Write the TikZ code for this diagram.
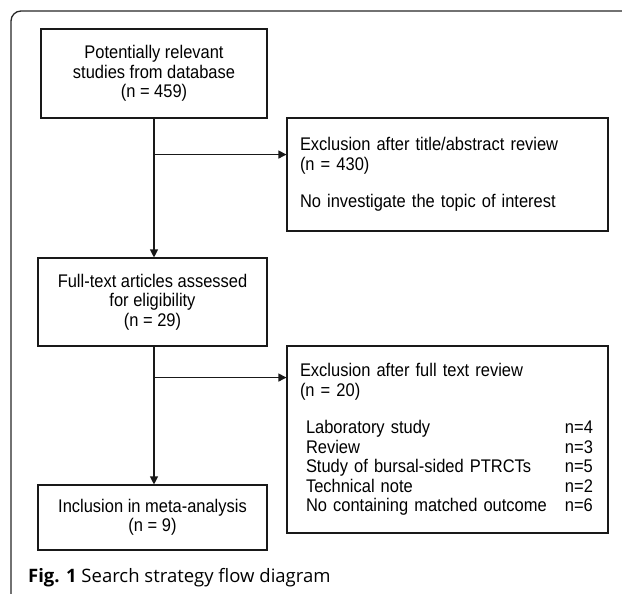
\documentclass[tikz,border=0pt]{standalone}
\usepackage{fontspec}
\setmainfont{Liberation Sans}[FakeStretch=0.9]
\newfontfamily\capfont{Open Sans}
\usepackage{tikz}
\usetikzlibrary{arrows.meta}
\tikzstyle{box} = [draw=black!90, line width=1.1pt, inner sep=0pt, font=\fontsize{18.3}{19.5}\selectfont]
\tikzstyle{arrow} = [line width=1.1pt, draw=black!90, -{Triangle[length=8pt, width=8pt]}]
\tikzstyle{frame} = [line width=1.3pt, draw=black!85, rounded corners=10pt]

\begin{document}
\begin{tikzpicture}[x=1pt, y=-1pt]
        \useasboundingbox (0,0) rectangle (622,594);
        \draw [frame] (622,11) -- (11,11) -- (11,594);

        \node (found) [box, minimum width=226pt, minimum height=89pt, align=center] at (154,73.5) {Potentially relevant\\studies from database\\(n = 459)};
        \node (excl_title) [box, minimum width=321pt, minimum height=113pt, text width=295pt, align=left] at (447.5,174.5) {Exclusion after title/abstract review\\(n = 430)\\[18pt]No investigate the topic of interest};
        \node (checked) [box, minimum width=229pt, minimum height=88pt, align=center] at (152.5,302) {Full-text articles assessed\\for eligibility\\(n = 29)};
        \node (excl_full) [box, minimum width=321pt, minimum height=187pt, text width=295pt, align=left] at (447.5,439.5) {Exclusion after full text review\\(n = 20)\\[18pt]
            \hspace*{6pt}\makebox[259pt][l]{Laboratory study}n=4\\
            \hspace*{6pt}\makebox[259pt][l]{Review}n=3\\
            \hspace*{6pt}\makebox[259pt][l]{Study of bursal-sided PTRCTs}n=5\\
            \hspace*{6pt}\makebox[259pt][l]{Technical note}n=2\\
            \hspace*{6pt}\makebox[259pt][l]{No containing matched outcome}n=6};
        \node (included) [box, minimum width=229pt, minimum height=65pt, align=center] at (152.5,517.5) {Inclusion in meta-analysis\\(n = 9)};
        \node (caption) [anchor=west, inner sep=0pt, font=\capfont\fontsize{18.5}{20}\selectfont] at (28,578) {\textbf{Fig. 1} Search strategy flow diagram};

        \draw [arrow] (found.south) -- (found.south |- checked.north);
        \draw [arrow] ([yshift=-36pt]found.south) coordinate (split_a) -- (split_a -| excl_title.west);
        \draw [arrow] (found.south |- checked.south) -- (found.south |- included.north);
        \draw [arrow] ([yshift=-31pt]found.south |- checked.south) coordinate (split_b) -- (split_b -| excl_full.west);
\end{tikzpicture}
\end{document}
